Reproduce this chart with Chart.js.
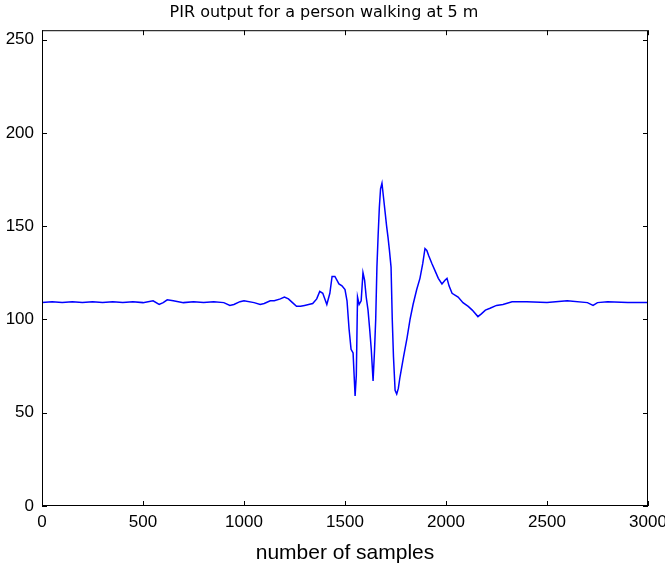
<!DOCTYPE html>
<html>
<head>
<meta charset="utf-8">
<script src="https://cdn.jsdelivr.net/npm/chart.js@4"></script>
<style>
  body { margin: 0; background: #fff; }
  canvas { display: block; }
</style>
</head>
<body>
<canvas id="pirChart" width="665" height="570"></canvas>
<script>
// sample index (x) and PIR output (y)
const sampleIdx = [0, 50, 100, 150, 200, 250, 300, 350, 400, 450, 500, 550, 580, 600, 620, 650, 700, 750, 800, 850,
  900, 930, 950, 980, 1000, 1050, 1080, 1100, 1130, 1150, 1180, 1200, 1220, 1240, 1260, 1280, 1300, 1320, 1340, 1360,
  1375, 1390, 1410, 1425, 1436, 1450, 1470, 1485, 1500, 1510, 1520, 1530, 1540, 1550, 1556, 1562, 1570, 1580, 1589, 1597,
  1605, 1614, 1622, 1630, 1639, 1646, 1652, 1658, 1664, 1670, 1676, 1683, 1690, 1698, 1706, 1713, 1720, 1728, 1734, 1740,
  1748, 1756, 1764, 1772, 1790, 1807, 1822, 1837, 1855, 1871, 1885, 1896, 1905, 1915, 1930, 1946, 1962, 1980, 1995, 2005,
  2015, 2030, 2060, 2084, 2110, 2130, 2158, 2175, 2195, 2218, 2250, 2282, 2327, 2400, 2500, 2600, 2700, 2728, 2750, 2800,
  2900, 3000];
const pirValue = [109, 109.5, 109, 109.5, 109, 109.5, 109, 109.5, 109, 109.5, 109, 110, 108, 109, 110.5, 110, 109, 109.5, 109, 109.5,
  109, 107.5, 108, 109.5, 110, 109, 108, 108.5, 110, 110, 111, 112, 111, 109, 107, 107, 107.5, 108, 108.5, 111,
  115, 114, 108, 114, 123, 123, 119, 118, 116, 110, 95, 84, 82, 59, 70, 112, 108, 110, 125, 121,
  112, 105, 95, 84, 67, 83, 100, 128, 145, 160, 170, 173, 166, 158, 150, 144, 137, 128, 100, 80,
  62, 60, 63, 69, 80, 90, 100, 108, 116, 122, 130, 138, 137, 134, 130, 126, 122, 119, 121, 122,
  118, 114, 112, 109, 107, 105, 101.5, 103, 105, 106, 107.5, 108, 109.5, 109.5, 109, 110, 109, 107.5, 109, 109.5,
  109, 109];
const xTicks = [0, 500, 1000, 1500, 2000, 2500, 3000];
const yTicks = [0, 50, 100, 150, 200, 250];

const fontFam = '"Liberation Sans", Arial, sans-serif';

// matlab style box with inward ticks on all four sides
const boxPlugin = {
    id: 'boxPlugin',
    afterDraw(chart) {
        const ctx = chart.ctx;
        const a = chart.chartArea;
        const xs = chart.scales.x, ys = chart.scales.y;
        const len = 5;
        ctx.save();
        ctx.strokeStyle = '#000';
        ctx.lineWidth = 1;
        ctx.strokeRect(a.left + 0.5, a.top + 0.5, a.right - a.left - 1, a.bottom - a.top - 1);
        ctx.beginPath();
        xTicks.forEach(v => {
            const px = Math.round(xs.getPixelForValue(v)) + 0.5;
            ctx.moveTo(px, a.bottom); ctx.lineTo(px, a.bottom - len);
            ctx.moveTo(px, a.top); ctx.lineTo(px, a.top + len);
        });
        yTicks.forEach(v => {
            const py = Math.round(ys.getPixelForValue(v)) + 0.5;
            ctx.moveTo(a.left, py); ctx.lineTo(a.left + len, py);
            ctx.moveTo(a.right, py); ctx.lineTo(a.right - len, py);
        });
        ctx.stroke();
        ctx.restore();
    }
};

const ctx = document.getElementById('pirChart').getContext('2d');
const pirChart = new Chart(ctx, {
    type: 'line',
    data: {
        datasets: [{
            data: sampleIdx.map((s, i) => ({ x: s, y: pirValue[i] })),
            borderColor: '#0000ff',
            borderWidth: 1.5,
            pointRadius: 0,
            tension: 0,
            fill: false
        }]
    },
    options: {
        responsive: false,
        animation: false,
        layout: { padding: { left: 0, right: 17, top: 0, bottom: 0 } },
        plugins: {
            legend: { display: false },
            tooltip: { enabled: false },
            title: {
                display: true,
                text: 'PIR output for a person walking at 5 m',
                color: '#000',
                font: { family: '"DejaVu Sans", sans-serif', size: 16, weight: 'normal' },
                padding: { top: 3, bottom: 8 }
            }
        },
        scales: {
            x: {
                type: 'linear',
                min: 0,
                max: 3000,
                afterBuildTicks: s => { s.ticks = xTicks.map(v => ({ value: v })); },
                afterFit: s => { s.height = 64; s.paddingRight = 0; s.paddingLeft = 0; },
                grid: { display: false, drawTicks: false },
                border: { display: false },
                ticks: {
                    color: '#000',
                    padding: 6,
                    maxRotation: 0,
                    font: { family: fontFam, size: 17 },
                    callback: v => String(v)
                },
                title: {
                    display: true,
                    text: 'number of samples',
                    color: '#000',
                    font: { family: fontFam, size: 21 },
                    padding: { top: 0, bottom: 4 }
                }
            },
            y: {
                type: 'linear',
                min: 0,
                max: 255,
                afterBuildTicks: s => { s.ticks = yTicks.map(v => ({ value: v })); },
                afterFit: s => { s.width = 42; },
                grid: { display: false, drawTicks: false },
                border: { display: false },
                ticks: {
                    color: '#000',
                    padding: 8,
                    font: { family: fontFam, size: 17 },
                    callback: v => String(v)
                }
            }
        }
    },
    plugins: [boxPlugin]
});
</script>
</body>
</html>
